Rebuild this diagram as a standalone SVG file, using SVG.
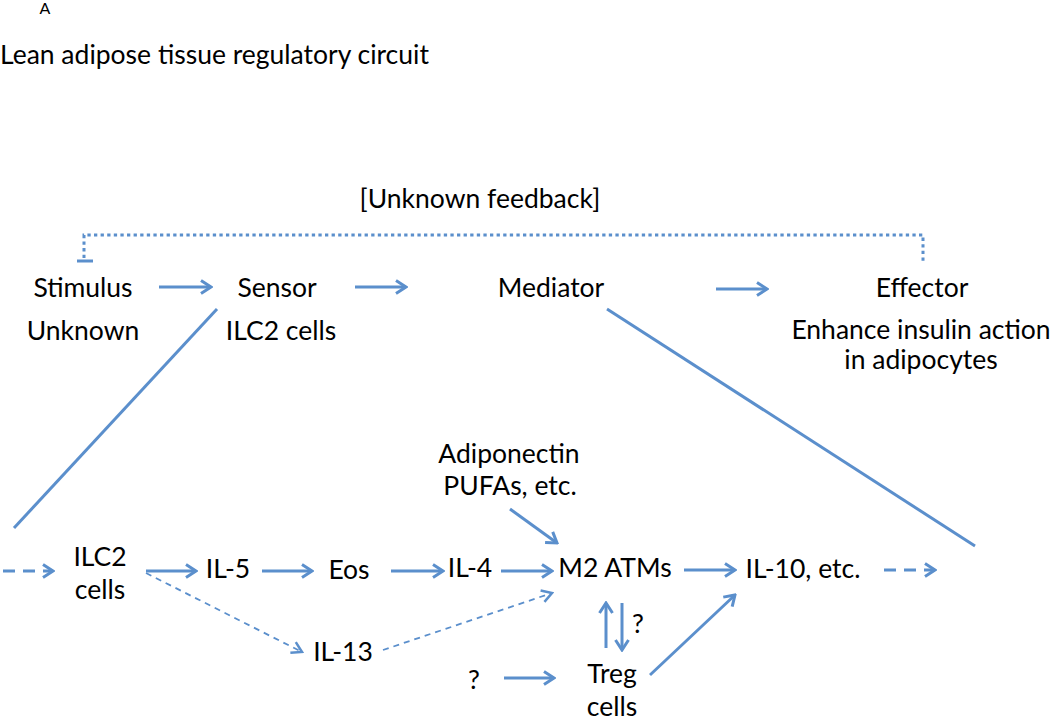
<svg xmlns="http://www.w3.org/2000/svg" width="1050" height="719" viewBox="0 0 1050 719">
<style>
text{font-family:Lato,"Liberation Sans",sans-serif;font-size:26.5px;fill:#000;text-anchor:middle}
.l{text-anchor:start}
.c{fill:none;stroke:#5B8FCC;stroke-width:3}
.a{marker-end:url(#ah)}
.d{stroke-dasharray:12,8}
.t{stroke-width:1.8;stroke-dasharray:6,5;marker-end:url(#ahs)}
.dot{stroke-dasharray:3.3,3.3}
</style>
<defs>
<marker id="ah" viewBox="0 0 14 16" refX="12" refY="8" markerWidth="14" markerHeight="16" markerUnits="userSpaceOnUse" orient="auto">
<path d="M2,1.5 L12,8 L2,14.5" fill="none" stroke="#5B8FCC" stroke-width="3"/>
</marker>
<marker id="ahs" viewBox="0 0 14 16" refX="12" refY="8" markerWidth="14" markerHeight="16" markerUnits="userSpaceOnUse" orient="auto">
<path d="M2,2 L12,8 L2,14" fill="none" stroke="#5B8FCC" stroke-width="2.5"/>
</marker>
</defs>
<rect width="1050" height="719" fill="#fff"/>
<g id="label-A"><text x="45" y="14" style="font-size:16px">A</text></g>
<g id="title"><text class="l" x="0" y="64">Lean adipose tissue regulatory circuit</text></g>
<g id="feedback"><text x="480" y="208">[Unknown feedback]</text></g>
<g id="stimulus"><text x="83" y="297">Stimulus</text><text x="83" y="340">Unknown</text></g>
<g id="sensor"><text x="277" y="297">Sensor</text><text x="281" y="340">ILC2 cells</text></g>
<g id="mediator"><text x="551" y="297">Mediator</text></g>
<g id="effector"><text x="922" y="297">Effector</text><text x="921" y="339">Enhance insulin action</text><text x="921" y="369">in adipocytes</text></g>
<g id="ilc2"><text x="100" y="566">ILC2</text><text x="100" y="599">cells</text></g>
<g id="il5"><text x="228" y="578">IL-5</text></g>
<g id="eos"><text x="349" y="579">Eos</text></g>
<g id="il4"><text x="470" y="577">IL-4</text></g>
<g id="m2"><text x="615" y="577">M2 ATMs</text></g>
<g id="il10"><text x="803" y="578">IL-10, etc.</text></g>
<g id="adipo"><text x="509" y="463">Adiponectin</text><text x="510" y="495">PUFAs, etc.</text></g>
<g id="il13"><text x="343" y="661">IL-13</text></g>
<g id="q1"><text x="474" y="689">?</text></g>
<g id="q2"><text x="638" y="633">?</text></g>
<g id="treg"><text x="612" y="683">Treg</text><text x="612" y="716">cells</text></g>
<g id="connectors">
<path class="c dot" d="M84,258 V235 H923 V263"/>
<path class="c" d="M77,261 H93"/>
<path class="c a" d="M159,287 H211"/>
<path class="c a" d="M355,287 H406"/>
<path class="c a" d="M716,289 H767"/>
<path class="c" d="M217,309 L14,528"/>
<path class="c" d="M607,309 L975,546"/>
<path class="c a d" d="M3,571 H53"/>
<path class="c a" d="M146,571 H196"/>
<path class="c a" d="M262,571 H312"/>
<path class="c a" d="M391,571 H443"/>
<path class="c a" d="M501,571 H552"/>
<path class="c a" d="M684,570 H735"/>
<path class="c a d" d="M884,570 H935"/>
<path class="c a" d="M510,509 L557,543"/>
<path class="c t" d="M146,573 L302,652"/>
<path class="c t" d="M383,650 L552,593"/>
<path class="c a" d="M606,648 V603"/>
<path class="c a" d="M622,603 V650"/>
<path class="c a" d="M504,678 H554"/>
<path class="c a" d="M650,675 L735,595"/>
</g>
</svg>
